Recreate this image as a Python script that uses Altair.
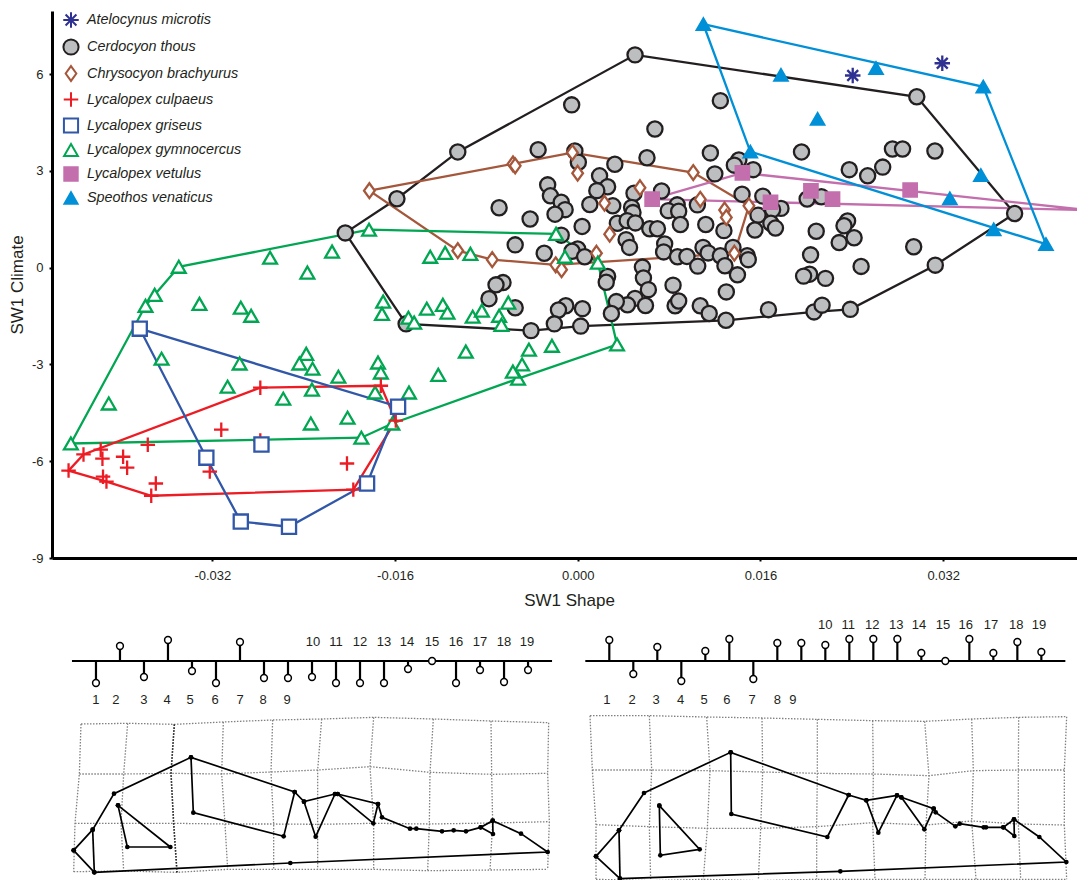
import altair as alt
import pandas as pd

FONT = "Liberation Sans"
INK = "#231f20"

# ---------- morphospace scores: (SW1 Shape x 1000 as first read, SW1 Climate) ----------
species = ["Atelocynus microtis", "Cerdocyon thous", "Chrysocyon brachyurus", "Lycalopex culpaeus",
           "Lycalopex griseus", "Lycalopex gymnocercus", "Lycalopex vetulus", "Speothos venaticus"]
stroke_colors = ["#2e3192", INK, "#a5573b", "#ed1c24", "#3157a8", "#00a651", "#c46fad", "#0090d7"]
fill_colors = ["transparent", "#bcbec0", "#ffffff", "transparent", "#ffffff", "#ffffff", "#c46fad", "#0090d7"]
shapes = ["M0,-1L0,1M-1,0L1,0M-0.7,-0.7L0.7,0.7M-0.7,0.7L0.7,-0.7", "circle", "M0,-1L0.72,0L0,1L-0.72,0Z",
          "M-1,0L1,0M0,-1L0,1", "square", "triangle-up", "square", "triangle-up"]
sizes = [240, 170, 520, 190, 175, 205, 190, 380]

atelocynus = [(24.1, 5.96), (31.9, 6.34)]
cerdocyon_hull = [(-20.1, 1.08), (-15.6, 2.14), (-10.3, 3.59), (5.14, 6.60), (29.68, 5.30), (38.2, 1.68),
                  (31.29, 0.08), (23.89, -1.29), (20.73, -1.37), (13.06, -1.63), (0.41, -1.81), (-3.92, -1.95),
                  (-14.8, -1.74)]
cerdocyon_inner = [
    (-0.38, 5.05), (12.57, 5.18), (6.87, 4.30), (11.70, 3.56), (19.64, 3.59), (27.56, 3.68), (28.44, 3.68),
    (31.26, 3.62), (-3.3, 3.66), (-0.10, 3.62), (0.20, 3.27), (3.38, 3.21), (6.18, 3.41), (14.18, 3.34),
    (13.79, 3.18), (15.43, 3.04), (12.09, 2.91), (23.80, 3.04), (26.71, 3.12), (25.40, 2.85), (2.05, 2.85),
    (-2.47, 2.57), (-2.23, 2.23), (2.75, 2.51), (1.81, 2.39), (7.45, 2.38), (5.05, 2.31), (-1.29, 2.03),
    (-0.95, 1.80), (-1.83, 1.66), (1.20, 1.96), (3.20, 1.92), (4.84, 1.87), (4.96, 1.71), (14.46, 2.28),
    (16.27, 2.22), (8.81, 1.95), (8.03, 1.77), (8.94, 1.75), (10.57, 1.95), (15.85, 1.63), (17.85, 1.84),
    (17.12, 1.80), (20.13, 2.13), (21.37, 2.20), (9.09, 1.34), (11.30, 1.34), (12.88, 1.15), (3.60, 1.38),
    (4.45, 1.46), (5.17, 1.39), (6.42, 1.21), (7.09, 1.21), (15.58, 1.17), (16.97, 1.38), (17.37, 1.23),
    (0.53, 1.28), (-1.29, 1.01), (23.65, 1.45), (23.34, 1.30), (20.92, 1.13), (22.92, 0.78), (24.22, 0.93),
    (4.36, 0.87), (4.66, 0.63), (7.72, 0.74), (7.63, 0.49), (11.06, 0.63), (11.51, 0.46), (8.84, 0.34),
    (9.66, 0.35), (10.60, 0.05), (12.57, 0.37), (12.97, 0.06), (13.67, 0.63), (14.91, 0.37), (15.00, 0.25),
    (14.06, -0.22), (0.14, 0.58), (-0.35, 0.51), (0.75, 0.34), (-2.77, 0.45), (5.78, 0.02), (5.87, -0.32),
    (2.75, -0.27), (2.63, -0.45), (6.30, -0.68), (8.45, -0.54), (13.09, -0.75), (20.43, 0.40), (29.41, 0.65),
    (24.83, 0.04), (20.34, -0.20), (19.82, -0.26), (21.73, -0.33), (5.14, -0.95), (4.48, -1.15), (3.51, -1.05),
    (6.05, -1.17), (8.63, -1.18), (8.94, -1.03), (10.82, -1.18), (11.60, -1.42), (3.08, -1.42), (0.56, -1.27),
    (-0.89, -1.18), (-1.53, -1.31), (16.76, -1.30), (21.43, -1.16), (-1.89, -1.74), (-6.7, 1.86), (-4.0, 1.51),
    (-5.3, 0.71), (-6.36, -0.46), (-6.97, -0.53), (-7.58, -0.96), (-5.3, -1.24)]
chrysocyon_hull = [(-18.0, 2.39), (-5.49, 3.22), (-0.32, 3.57), (10.21, 2.95), (15.06, 1.92), (13.79, 0.45),
                   (-1.77, 0.09), (-7.3, 0.25), (-10.3, 0.53)]
chrysocyon_inner = [(-5.3, 3.16), (0.14, 2.93), (5.57, 2.48), (2.48, 2.00), (10.82, 2.12), (12.94, 1.79),
                    (13.09, 1.56), (2.93, 1.04), (1.78, 0.45), (-1.26, -0.06)]
culpaeus_hull = [(-44.2, -6.29), (-42.9, -5.79), (-27.5, -3.72), (-17.0, -3.66), (-15.7, -4.74), (-19.4, -6.88),
                 (-37.0, -7.07), (-40.9, -6.63)]
culpaeus_inner = [(-41.4, -5.64), (-41.25, -5.92), (-39.45, -5.86), (-39.1, -6.2), (-37.3, -5.49), (-41.2, -6.48),
                  (-36.6, -6.69), (-30.9, -5.02), (-27.5, -5.36), (-31.9, -6.32), (-19.95, -6.07)]
griseus_hull = [(-38.0, -1.89), (-15.5, -4.31), (-18.2, -6.69), (-25.0, -8.03), (-29.2, -7.87), (-32.2, -5.89)]
griseus_inner = [(-27.4, -5.48)]
gymnocercus_hull = [(-44.0, -5.45), (-37.5, -1.18), (-36.7, -0.84), (-34.6, 0.03), (-18.03, 1.18), (-1.74, 1.05),
                    (1.9, 0.16), (3.57, -2.38), (-5.05, -3.44), (-16.0, -4.83), (-18.7, -5.27)]
gymnocercus_inner = [
    (-26.65, 0.31), (-23.4, -0.15), (-21.25, 0.50), (-12.7, 0.34), (-11.4, 0.46), (-9.2, 0.43), (-32.8, -1.12),
    (-29.2, -1.24), (-28.3, -1.49), (-16.8, -1.05), (-16.9, -1.43), (-14.6, -1.55), (-14.1, -1.70), (-13.0, -1.27),
    (-11.6, -1.15), (-11.2, -1.39), (-9.0, -1.52), (-8.2, -1.33), (-5.9, -1.08), (-6.7, -1.49), (-6.5, -1.77),
    (-9.6, -2.60), (-12.0, -3.32), (-4.1, -2.54), (-2.1, -2.42), (-4.7, -3.0), (-5.5, -3.22), (-17.25, -2.94),
    (-17.0, -3.25), (-14.55, -3.87), (-17.5, -3.87), (-19.9, -4.65), (-23.1, -4.83), (-23.0, -3.78), (-20.7, -3.38),
    (-23.5, -2.67), (-24.1, -2.97), (-22.95, -3.13), (-25.5, -4.06), (-29.3, -2.97), (-30.35, -3.69), (-36.1, -2.82),
    (-40.7, -4.21), (-0.96, 0.34)]
vetulus_hull = [(6.63, 2.13), (14.49, 2.94), (44.42, 1.79), (16.94, 2.03)]
vetulus_inner = [(20.46, 2.38), (22.34, 2.13), (29.1, 2.41)]
speothos_hull = [(11.09, 7.55), (35.47, 5.61), (40.93, 0.73), (15.18, 3.60)]
speothos_inner = [(17.85, 5.98), (26.13, 6.19), (21.04, 4.61), (35.26, 2.87), (32.56, 2.15), (36.38, 1.19)]

draw_order = [
    ("Cerdocyon thous", cerdocyon_hull, cerdocyon_inner),
    ("Chrysocyon brachyurus", chrysocyon_hull, chrysocyon_inner),
    ("Lycalopex gymnocercus", gymnocercus_hull, gymnocercus_inner),
    ("Lycalopex culpaeus", culpaeus_hull, culpaeus_inner),
    ("Lycalopex griseus", griseus_hull, griseus_inner),
    ("Lycalopex vetulus", vetulus_hull, vetulus_inner),
    ("Speothos venaticus", speothos_hull, speothos_inner),
    ("Atelocynus microtis", [], atelocynus),
]

# ---------- landmark loadings ----------
idx = list(range(1, 20))
load_left = [-22, 15, -16, 21, -10, -22, 19, -17, -17, -16, -22, -22, -22, -8, 0, -22, -9, -21, -9]
load_right = [21, -13, 14, -20, 10, 22, -18, 18, 18, 16, 22, 22, 22, 8, 0, 22, 8, 19, 9]
lab_x_left = [1, 1.83, 3, 3.96, 4.92, 5.96, 7, 7.96, 8.96, 10.04, 11, 12, 13, 13.96, 15, 16, 17, 18, 18.96]
lab_x_right = [0.9, 1.95, 2.95, 3.97, 4.95, 5.9, 6.95, 8, 8.65, 10, 10.95, 11.95, 12.95, 13.9, 14.9, 15.85, 16.9, 17.95, 18.9]
lab_y_left = [-39] * 9 + [19] * 10
lab_y_right = [-39] * 9 + [36] * 10

# ---------- deformation grids and outlines ----------
grid_left = [
    [(90, 312), (230, 310), (370, 313), (517, 306), (665, 300), (812, 297), (968, 292), (1147, 297), (1320, 303), (1493, 308)],
    [(85, 462), (218, 462), (360, 460), (512, 462), (660, 456), (800, 450), (957, 440), (1137, 457), (1322, 463), (1490, 460)],
    [(72, 610), (210, 610), (368, 610), (522, 612), (668, 612), (800, 613), (968, 610), (1135, 612), (1325, 609), (1495, 605)],
    [(68, 755), (218, 753), (378, 757), (530, 748), (668, 748), (800, 748), (968, 748), (1130, 752), (1317, 750), (1490, 748)],
]
grid_right = [
    [(60, 287), (238, 287), (410, 291), (576, 294), (742, 298), (908, 302), (1064, 304), (1205, 297), (1346, 292), (1490, 290)],
    [(67, 450), (245, 450), (420, 452), (578, 456), (742, 460), (910, 462), (1077, 467), (1210, 452), (1345, 450), (1483, 450)],
    [(78, 614), (238, 620), (412, 625), (572, 625), (740, 620), (908, 608), (1068, 615), (1205, 603), (1345, 612), (1483, 615)],
    [(78, 778), (242, 782), (400, 778), (565, 782), (740, 778), (915, 778), (1065, 778), (1218, 778), (1352, 778), (1490, 778)],
]
outline_left = [
    [(68, 691), (125, 629), (189, 521), (420, 412), (731, 516), (759, 545), (852, 522), (860, 522), (981, 552), (993, 592),
     (1077, 626), (1096, 626), (1173, 634), (1208, 631), (1245, 634), (1289, 622), (1325, 602), (1410, 641), (1490, 696),
     (718, 729), (130, 757), (68, 691)],
    [(125, 629), (130, 757)],
    [(420, 412), (427, 578), (698, 649), (731, 516)],
    [(759, 545), (794, 650), (852, 522)],
    [(860, 522), (967, 610), (981, 552)],
    [(1289, 622), (1326, 642), (1325, 602)],
    [(201, 556), (229, 681), (358, 681), (201, 556)],
]
outline_right = [
    [(78, 709), (147, 631), (222, 519), (482, 397), (836, 525), (889, 541), (981, 526), (994, 532), (1091, 566), (1097, 577),
     (1156, 619), (1169, 611), (1241, 622), (1248, 622), (1300, 622), (1332, 598), (1408, 651), (1489, 726), (811, 754),
     (150, 776), (78, 709)],
    [(147, 631), (150, 776)],
    [(482, 397), (484, 582), (772, 651), (836, 525)],
    [(889, 541), (925, 638), (981, 526)],
    [(994, 532), (1063, 628), (1091, 566)],
    [(1300, 622), (1333, 648), (1332, 598)],
    [(268, 557), (271, 706), (389, 688), (268, 557)],
]

# ---------- main panel ----------
X = alt.Scale(domain=[-0.04604, 0.04451], nice=False, zero=False)
Y = alt.Scale(domain=[-9, 7.96], nice=False, zero=False)
xax = alt.Axis(values=[-0.032, -0.016, 0, 0.016, 0.032], grid=False, title="SW1 Shape",
               labelExpr="(datum.value<0?'-':'')+format(abs(datum.value),'.3f')",
               domainWidth=3, domainColor="black", tickColor="black", tickWidth=2, tickSize=3,
               labelFont=FONT, labelFontSize=13, labelColor=INK, labelPadding=8,
               titleFont=FONT, titleFontSize=17, titleFontWeight="normal", titleColor=INK, titlePadding=10)
yax = alt.Axis(values=[-9, -6, -3, 0, 3, 6], grid=False, title="SW1 Climate",
               labelExpr="''+datum.value",
               domainWidth=3, domainColor="black", tickColor="black", tickWidth=2, tickSize=3,
               labelFont=FONT, labelFontSize=13, labelColor=INK, labelPadding=6,
               titleFont=FONT, titleFontSize=17, titleFontWeight="normal", titleColor=INK, titlePadding=5)
leg = alt.Legend(title=None, orient="none", legendX=10, legendY=0, symbolStrokeWidth=2, symbolOpacity=1,
                 labelFont=FONT, labelFontSize=14.4, labelFontStyle="italic", labelColor=INK, labelOffset=7,
                 rowPadding=3, labelLimit=300, symbolType="circle")


def pts_df(name, pts):
    # the shape values were read against a slightly different tick calibration (1.00543 gain, -0.149 offset)
    return pd.DataFrame({"x": [(p[0] * 1.00543 - 0.149) / 1000 for p in pts], "y": [p[1] for p in pts],
                         "i": range(len(pts)), "species": name})


xenc = alt.X("x:Q", scale=X, axis=xax)
yenc = alt.Y("y:Q", scale=Y, axis=yax)
layers = []
stroke_by = dict(zip(species, stroke_colors))
for name, hull, inner in draw_order:
    if hull:
        layers.append(alt.Chart(pts_df(name, hull)).mark_line(
            interpolate="linear-closed", strokeWidth=2.3, color=stroke_by[name], clip=True).encode(
            x=xenc, y=yenc, order="i:Q"))
for name, hull, inner in draw_order:
    layers.append(alt.Chart(pts_df(name, list(hull) + list(inner))).mark_point(
        filled=True, opacity=1, strokeWidth=2.3, clip=name == "Lycalopex vetulus").encode(
        x=xenc, y=yenc,
        fill=alt.Fill("species:N", scale=alt.Scale(domain=species, range=fill_colors), legend=leg),
        stroke=alt.Stroke("species:N", scale=alt.Scale(domain=species, range=stroke_colors), legend=leg),
        shape=alt.Shape("species:N", scale=alt.Scale(domain=species, range=shapes), legend=leg),
        size=alt.Size("species:N", scale=alt.Scale(domain=species, range=sizes), legend=leg),
    ))
main = alt.layer(*layers).properties(width=1034, height=547)


# ---------- lower panels ----------
def lollipop(loads, lab_x, lab_y, domain, width):
    xs = alt.Scale(domain=domain, nice=False, zero=False)
    ys = alt.Scale(domain=[-49, 49], nice=False, zero=False)
    d = pd.DataFrame({"i": idx, "v": loads, "zero": 0, "lx": lab_x, "ly": lab_y, "t": [str(k) for k in idx]})
    base = pd.DataFrame({"a": [0.0], "b": [20.0], "zero": [0]})
    px = alt.X("i:Q", scale=xs, axis=None)
    py = alt.Y("v:Q", scale=ys, axis=None)
    return alt.layer(
        alt.Chart(base).mark_rule(strokeWidth=2.2, color="black").encode(
            x=alt.X("a:Q", scale=xs, axis=None), x2="b:Q", y=alt.Y("zero:Q", scale=ys, axis=None)),
        alt.Chart(d).mark_rule(strokeWidth=2.2, color="black").encode(x=px, y=py, y2="zero:Q"),
        alt.Chart(d).mark_point(filled=True, fill="white", stroke="black", strokeWidth=1.5, size=46, opacity=1).encode(x=px, y=py),
        alt.Chart(d).mark_text(font=FONT, fontSize=13, color=INK).encode(
            x=alt.X("lx:Q", scale=xs, axis=None), y=alt.Y("ly:Q", scale=ys, axis=None), text="t:N"),
    ).properties(width=width, height=98)


def deform(grid, outline, domain, width, dark=None):
    xs = alt.Scale(domain=domain, nice=False, zero=False)
    ys = alt.Scale(domain=[780, 270], nice=False, zero=False)
    ex = alt.X("x:Q", scale=xs, axis=None)
    ey = alt.Y("y:Q", scale=ys, axis=None)
    g = []
    for r, row in enumerate(grid):
        for k, (a, b) in enumerate(row):
            g.append({"x": a, "y": b, "line": f"r{r}", "k": k})
    for c in range(len(grid[0])):
        for r, row in enumerate(grid):
            g.append({"x": row[c][0], "y": row[c][1], "line": f"c{c}", "k": r})
    o = []
    for n, path in enumerate(outline):
        for k, (a, b) in enumerate(path):
            o.append({"x": a, "y": b, "line": n, "k": k})
    parts = [
        alt.Chart(pd.DataFrame(g)).mark_line(strokeWidth=1.3, color="#808080", strokeDash=[1.5, 1.5]).encode(
            x=ex, y=ey, detail="line:N", order="k:Q"),
    ]
    if dark is not None:
        parts.append(alt.Chart(pd.DataFrame([r for r in g if r["line"] == dark])).mark_line(
            strokeWidth=1.6, color="#222222", strokeDash=[1.5, 1.5]).encode(x=ex, y=ey, order="k:Q"))
    parts += [
        alt.Chart(pd.DataFrame(o)).mark_line(strokeWidth=1.7, color="black").encode(
            x=ex, y=ey, detail="line:N", order="k:Q"),
        alt.Chart(pd.DataFrame(o)).mark_circle(size=22, color="black", opacity=1).encode(x=ex, y=ey),
    ]
    return alt.layer(*parts).properties(width=width, height=170)


left = alt.vconcat(
    lollipop(load_left, lab_x_left, lab_y_left, [-0.832, 20.748], 518),
    deform(grid_left, outline_left, [3, 1557], 518, dark="c2"),
    spacing=0)
right = alt.vconcat(
    lollipop(load_right, lab_x_right, lab_y_right, [-0.6375, 20.86], 516),
    deform(grid_right, outline_right, [0, 1548], 516),
    spacing=0)
lower = alt.hconcat(left, right, spacing=0)

chart = alt.vconcat(main, lower, spacing=4).properties(
    padding={"left": 0, "top": 3, "right": -9, "bottom": 0}
).configure_view(stroke=None)

chart.save("out.html", embed_options={"renderer": "svg", "actions": False})
